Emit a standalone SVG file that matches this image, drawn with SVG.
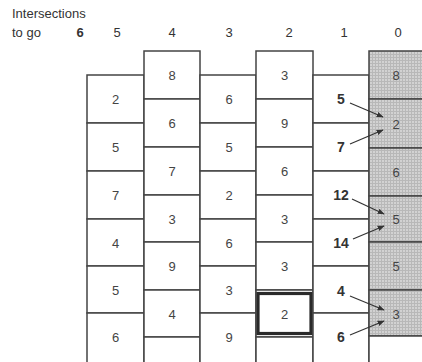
<svg xmlns="http://www.w3.org/2000/svg" width="422" height="362" viewBox="0 0 422 362">
<defs>
<pattern id="stip" width="3" height="3" patternUnits="userSpaceOnUse">
<rect width="3" height="3" fill="#d2d2d2"/>
<path d="M0 0.5H3M0.5 0V3" stroke="#b8b8b8" stroke-width="1"/>
</pattern>
<marker id="ah" viewBox="0 0 10 10" refX="9" refY="5" markerWidth="7" markerHeight="7" orient="auto" markerUnits="userSpaceOnUse">
<path d="M0 1L10 5L0 9z" fill="#333"/>
</marker>
<style>
.c{fill:#fff;stroke:#444;stroke-width:1.5}
.s{fill:url(#stip);stroke:#444;stroke-width:1.5}
.n{font-family:"Liberation Sans",Arial,sans-serif;font-size:13px;fill:#444;text-anchor:middle}
.b{font-family:"Liberation Sans",Arial,sans-serif;font-size:14px;font-weight:bold;fill:#333;text-anchor:middle}
.h{font-family:"Liberation Sans",Arial,sans-serif;font-size:13px;fill:#333}
.a{stroke:#333;stroke-width:1.2;fill:none;marker-end:url(#ah)}
</style>
</defs>
<rect width="422" height="362" fill="#fff"/>
<g id="header">
<text class="h" x="12" y="18">Intersections</text>
<text class="h" x="12" y="37">to go</text>
<text class="h" x="80" y="37" text-anchor="middle" font-weight="bold">6</text>
<text class="h" x="117" y="37" text-anchor="middle">5</text>
<text class="h" x="172" y="37" text-anchor="middle">4</text>
<text class="h" x="229" y="37" text-anchor="middle">3</text>
<text class="h" x="289" y="37" text-anchor="middle">2</text>
<text class="h" x="344" y="37" text-anchor="middle">1</text>
<text class="h" x="398" y="37" text-anchor="middle">0</text>
</g>
<!-- column 5 -->
<g id="c5r1"><rect class="c" x="87" y="75" width="57" height="48"/><text class="n" x="115.5" y="104">2</text></g>
<g id="c5r2"><rect class="c" x="87" y="123" width="57" height="48"/><text class="n" x="115.5" y="152">5</text></g>
<g id="c5r3"><rect class="c" x="87" y="171" width="57" height="48"/><text class="n" x="115.5" y="200">7</text></g>
<g id="c5r4"><rect class="c" x="87" y="219" width="57" height="47"/><text class="n" x="115.5" y="248">4</text></g>
<g id="c5r5"><rect class="c" x="87" y="266" width="57" height="47"/><text class="n" x="115.5" y="295">5</text></g>
<g id="c5r6"><rect class="c" x="87" y="313" width="57" height="55"/><text class="n" x="115.5" y="342">6</text></g>
<!-- column 4 -->
<g id="c4r1"><rect class="c" x="144" y="51" width="56" height="48"/><text class="n" x="172" y="80">8</text></g>
<g id="c4r2"><rect class="c" x="144" y="99" width="56" height="48"/><text class="n" x="172" y="128">6</text></g>
<g id="c4r3"><rect class="c" x="144" y="147" width="56" height="48"/><text class="n" x="172" y="176">7</text></g>
<g id="c4r4"><rect class="c" x="144" y="195" width="56" height="47"/><text class="n" x="172" y="224">3</text></g>
<g id="c4r5"><rect class="c" x="144" y="242" width="56" height="48"/><text class="n" x="172" y="271">9</text></g>
<g id="c4r6"><rect class="c" x="144" y="290" width="56" height="47"/><text class="n" x="172" y="319">4</text></g>
<g id="c4r7"><rect class="c" x="144" y="337" width="56" height="35"/></g>
<!-- column 3 -->
<g id="c3r1"><rect class="c" x="200" y="75" width="56" height="48"/><text class="n" x="229" y="104">6</text></g>
<g id="c3r2"><rect class="c" x="200" y="123" width="56" height="48"/><text class="n" x="229" y="152">5</text></g>
<g id="c3r3"><rect class="c" x="200" y="171" width="56" height="48"/><text class="n" x="229" y="200">2</text></g>
<g id="c3r4"><rect class="c" x="200" y="219" width="56" height="47"/><text class="n" x="229" y="248">6</text></g>
<g id="c3r5"><rect class="c" x="200" y="266" width="56" height="47"/><text class="n" x="229" y="295">3</text></g>
<g id="c3r6"><rect class="c" x="200" y="313" width="56" height="55"/><text class="n" x="229" y="342">9</text></g>
<!-- column 2 -->
<g id="c2r1"><rect class="c" x="256" y="51" width="57" height="48"/><text class="n" x="284.5" y="80">3</text></g>
<g id="c2r2"><rect class="c" x="256" y="99" width="57" height="48"/><text class="n" x="284.5" y="128">9</text></g>
<g id="c2r3"><rect class="c" x="256" y="147" width="57" height="48"/><text class="n" x="284.5" y="176">6</text></g>
<g id="c2r4"><rect class="c" x="256" y="195" width="57" height="47"/><text class="n" x="284.5" y="224">3</text></g>
<g id="c2r5"><rect class="c" x="256" y="242" width="57" height="48"/><text class="n" x="284.5" y="271">3</text></g>
<g id="c2r6"><rect class="c" x="256" y="290" width="57" height="47"/><rect x="258" y="293.5" width="53" height="40" fill="none" stroke="#2a2a2a" stroke-width="3.2"/><text class="n" x="284.5" y="319">2</text></g>
<g id="c2r7"><rect class="c" x="256" y="337" width="57" height="35"/></g>
<!-- column 1 -->
<g id="c1r1"><rect class="c" x="313" y="75" width="56" height="48"/><text class="b" x="341" y="104">5</text></g>
<g id="c1r2"><rect class="c" x="313" y="123" width="56" height="48"/><text class="b" x="341" y="152">7</text></g>
<g id="c1r3"><rect class="c" x="313" y="171" width="56" height="48"/><text class="b" x="341" y="200">12</text></g>
<g id="c1r4"><rect class="c" x="313" y="219" width="56" height="47"/><text class="b" x="341" y="248">14</text></g>
<g id="c1r5"><rect class="c" x="313" y="266" width="56" height="47"/><text class="b" x="341" y="296">4</text></g>
<g id="c1r6"><rect class="c" x="313" y="313" width="56" height="55"/><text class="b" x="341" y="342">6</text></g>
<!-- column 0 -->
<g id="c0r1"><rect class="s" x="369" y="51" width="60" height="48"/><text class="n" x="396" y="80">8</text></g>
<g id="c0r2"><rect class="s" x="369" y="99" width="60" height="49"/><text class="n" x="396" y="129">2</text></g>
<g id="c0r3"><rect class="s" x="369" y="148" width="60" height="48"/><text class="n" x="396" y="177">6</text></g>
<g id="c0r4"><rect class="s" x="369" y="196" width="60" height="46"/><text class="n" x="396" y="224">5</text></g>
<g id="c0r5"><rect class="s" x="369" y="242" width="60" height="48"/><text class="n" x="396" y="271">5</text></g>
<g id="c0r6"><rect class="s" x="369" y="290" width="60" height="46"/><text class="n" x="396" y="319">3</text></g>
<g id="c0r7"><rect class="c" x="369" y="336" width="60" height="36"/></g>
<g id="connectors">
<line class="a" x1="350" y1="103" x2="383" y2="117"/>
<line class="a" x1="350" y1="144" x2="383" y2="130"/>
<line class="a" x1="352" y1="199" x2="384" y2="214"/>
<line class="a" x1="353" y1="239" x2="384" y2="226"/>
<line class="a" x1="350" y1="296" x2="384" y2="310"/>
<line class="a" x1="350" y1="335" x2="384" y2="321"/>
</g>
</svg>
